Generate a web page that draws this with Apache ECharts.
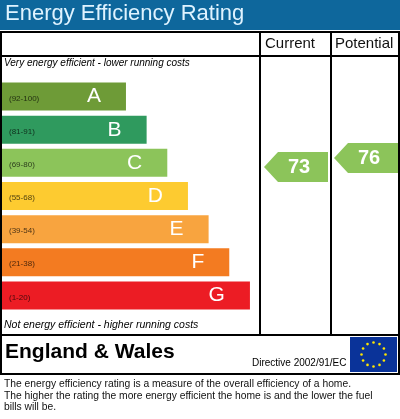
<!DOCTYPE html>
<html><head><meta charset="utf-8">
<script src="https://cdn.jsdelivr.net/npm/echarts@6/dist/echarts.min.js"></script>
<style>html,body{margin:0;padding:0;background:#fff}#c{width:400px;height:419px}</style>
</head><body><div id="c"></div>
<script>
const bands = ['A','B','C','D','E','F','G'];
const ranges = ['(92-100)','(81-91)','(69-80)','(55-68)','(39-54)','(21-38)','(1-20)'];
const barLengths = [6,7,8,9,10,11,12];
const bandColors = ['#6e9b37','#2f9a5e','#8cc45a','#fdcb30','#f8a43f','#f37b21','#ec1c24'];
const columns = ['Current','Potential'];
const ratings = [73,76];
const ratingColors = ['#8cc45a','#8cc45a'];

const F = 'Liberation Sans, Arial, sans-serif';
const chart = echarts.init(document.getElementById('c'), null, {renderer:'canvas'});
function txt(x,y,t,style){return {type:'text',left:x,top:y,style:Object.assign({text:t,font:'11px '+F,fill:'#000'},style)};}
function line(x1,y1,x2,y2,w){return {type:'line',shape:{x1,y1,x2,y2},style:{stroke:'#000',lineWidth:w||2}};}
chart.setOption({
  animation:false,
  grid:[
    {left:2,top:80,width:250,height:232},
    {left:260,top:56,width:140,height:279}
  ],
  xAxis:[
    {gridIndex:0,type:'value',min:0,max:12.1,show:false},
    {gridIndex:1,type:'category',data:columns,show:false}
  ],
  yAxis:[
    {gridIndex:0,type:'category',data:bands,inverse:true,show:false},
    {gridIndex:1,type:'value',min:17,max:110,show:false}
  ],
  series:[
    {type:'bar',xAxisIndex:0,yAxisIndex:0,barWidth:28,
     data:barLengths.map((v,i)=>({value:v,itemStyle:{color:bandColors[i]}})),
     label:{show:true,position:'insideRight',offset:[-20,0],formatter:p=>bands[p.dataIndex],color:'#fff',fontSize:21,fontFamily:F}},
    {type:'bar',xAxisIndex:0,yAxisIndex:0,barWidth:28,barGap:'-100%',
     data:barLengths,itemStyle:{color:'rgba(0,0,0,0)'},
     label:{show:true,position:'insideLeft',offset:[2,2],formatter:p=>ranges[p.dataIndex],color:'rgba(0,0,0,0.7)',fontSize:8,fontFamily:F}},
    {type:'custom',xAxisIndex:1,yAxisIndex:1,data:ratings.map((r,i)=>[i,r]),
     renderItem:(params,api)=>{
       const c=api.coord([api.value(0),api.value(1)]);
       const w=64,h=30,x0=c[0]-w/2+1,t=h/2;
       const col=ratingColors[params.dataIndex];
       return {type:'group',children:[
         {type:'polygon',shape:{points:[[x0,c[1]],[x0+14,c[1]-t],[x0+w,c[1]-t],[x0+w,c[1]+t],[x0+14,c[1]+t]]},style:{fill:col}},
         {type:'text',x:x0+w/2+3,y:c[1],style:{text:String(api.value(1)),fill:'#fff',font:'bold 20px '+F,align:'center',verticalAlign:'middle'}}
       ]};
     }}
  ],
  graphic:[
    {type:'rect',shape:{x:0,y:0,width:400,height:30},style:{fill:'#0e679c'}},
    txt(5,3,'Energy Efficiency Rating',{font:'22px '+F,fill:'#dff3ff'}),
    {type:'rect',shape:{x:1,y:32,width:398,height:342},style:{fill:'none',stroke:'#000',lineWidth:2}},
    line(0,56,400,56),line(260,32,260,335),line(331,32,331,335),line(0,335,400,335),
    txt(265,36,'Current',{font:'15px '+F,fill:'#111'}),
    txt(335,36,'Potential',{font:'15px '+F,fill:'#111'}),
    txt(4,58,'Very energy efficient - lower running costs',{font:'italic 10px '+F}),
    txt(4,320,'Not energy efficient - higher running costs',{font:'italic 10.5px '+F}),
    txt(5,342,'England & Wales',{font:'bold 21px '+F}),
    txt(252,358,'Directive 2002/91/EC',{font:'10px '+F}),
    {type:'rect',shape:{x:350,y:337,width:47,height:35},style:{fill:'#0a3399'}},
    ...Array.from({length:12},(_,k)=>{const a=k*Math.PI/6;return {type:'circle',shape:{cx:373.5+12*Math.cos(a),cy:354.5+12*Math.sin(a),r:1.3},style:{fill:'#ffe600'}};}),
    txt(4,379,'The energy efficiency rating is a measure of the overall efficiency of a home.',{font:'10.3px '+F,fill:'#111'}),
    txt(4,391,'The higher the rating the more energy efficient the home is and the lower the fuel',{font:'10.3px '+F,fill:'#111'}),
    txt(4,402,'bills will be.',{font:'10.3px '+F,fill:'#111'})
  ]
});
</script></body></html>
